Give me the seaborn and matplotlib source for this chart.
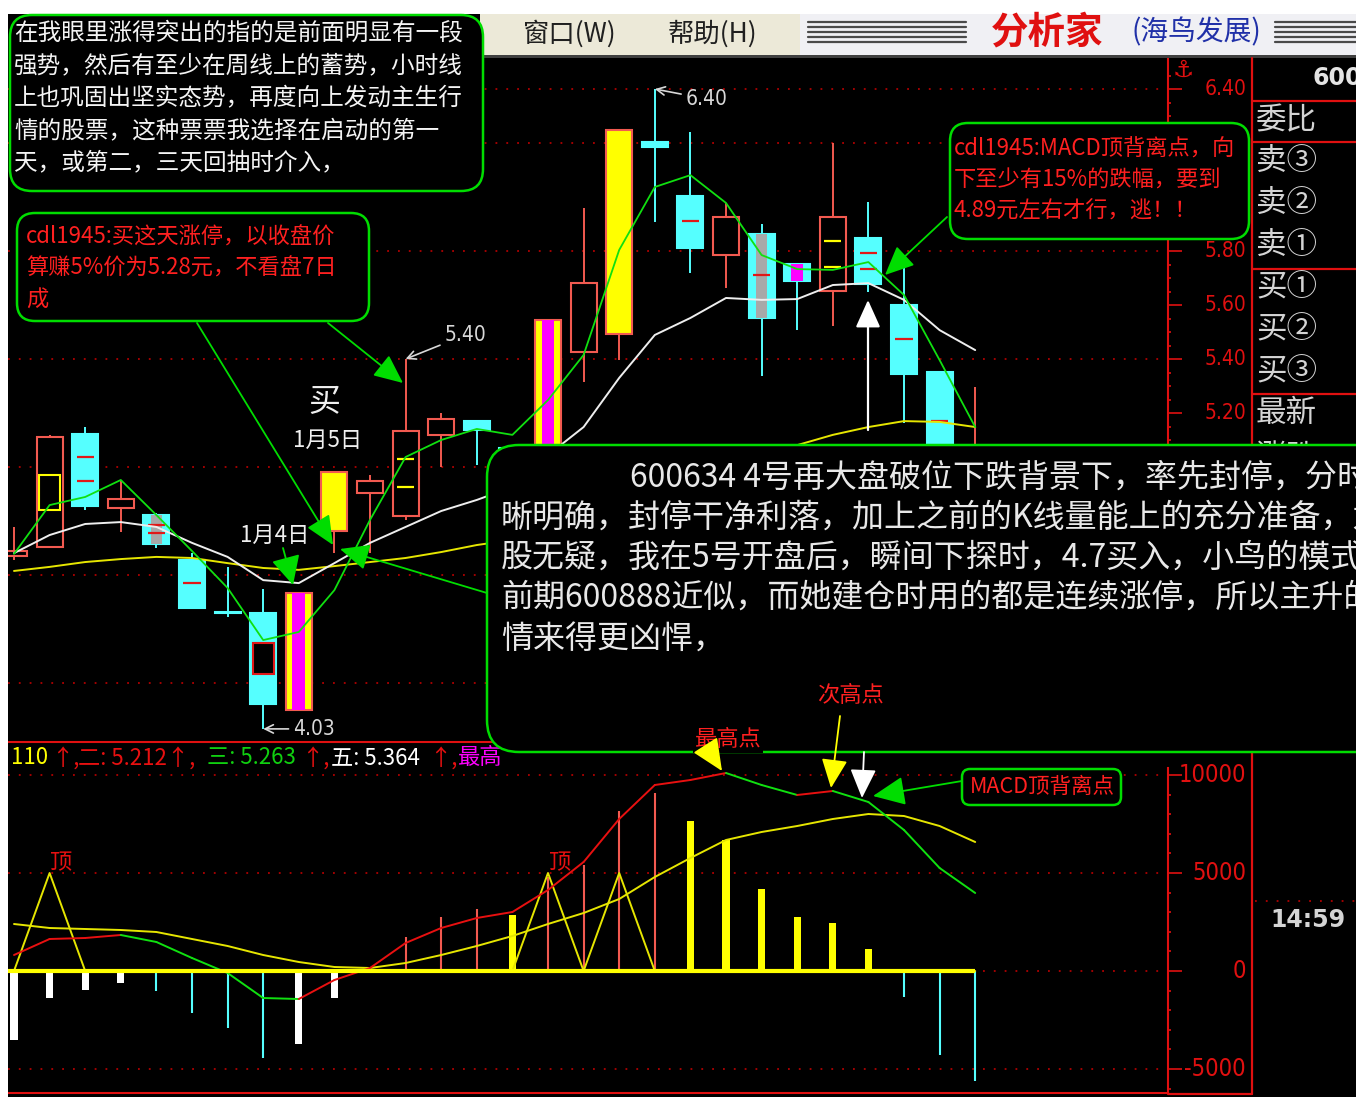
import numpy as np
import pandas as pd
import seaborn as sns
import matplotlib.pyplot as plt
from matplotlib.patches import FancyBboxPatch, Rectangle, FancyArrowPatch
from matplotlib.transforms import blended_transform_factory


# 600634 daily candles
opens = [4.670, 4.704, 5.122, 4.848, 4.822, 4.656, 4.462, 4.459, 4.100, 4.762,
         4.904, 4.819, 5.119, 5.170, 5.070, 5.040, 5.426, 5.493, 6.204, 6.004,
         5.785, 5.863, 5.752, 5.652, 5.848, 5.600, 5.352, 4.980]
highs = [4.778, 5.119, 5.148, 4.948, 4.830, 4.681, 4.630, 4.548, 4.533, 4.980,
         4.970, 5.400, 5.200, 5.170, 5.075, 5.544, 5.959, 6.248, 6.400, 6.241,
         5.978, 5.900, 5.752, 6.200, 5.981, 5.785, 5.352, 5.296]
lows = [4.656, 4.704, 4.841, 4.759, 4.700, 4.478, 4.444, 4.030, 4.100, 4.681,
        4.681, 4.804, 5.000, 5.007, 4.950, 5.040, 5.315, 5.396, 5.907, 5.719,
        5.663, 5.337, 5.507, 5.522, 5.648, 5.163, 4.950, 4.950]
closes = [4.689, 5.111, 4.856, 4.881, 4.715, 4.478, 4.459, 4.122, 4.533, 4.980,
          4.948, 5.133, 5.178, 5.137, 5.040, 5.544, 5.681, 6.248, 6.185, 5.811,
          5.926, 5.552, 5.689, 5.926, 5.678, 5.344, 5.040, 5.060]
# zt = limit-up board, ztk = limit-up after a gap open, g/m = marked doji days
day_tag = ['', '', '', '', 'g', '', '', '', 'zt', 'ztk',
           '', '', '', '', '', 'zt', '', 'ztk', '', '',
           '', 'g', 'm', '', '', '', '', '']
inner_lines = {2: [5.037, 4.948], 4: [4.785, 4.756], 5: [4.570], 11: [5.030, 4.926],
               19: [5.911], 21: [5.711], 23: [5.837, 5.741], 24: [5.793, 5.733],
               25: [5.474], 26: [5.170]}
inner_boxes = {1: (4.84, 4.97), 7: (4.233, 4.348)}

ma_green = [4.678, 4.859, 4.889, 4.952, 4.822, 4.689, 4.552, 4.359, 4.389, 4.544,
            4.804, 5.037, 5.100, 5.141, 5.119, 5.248, 5.415, 5.804, 6.037, 6.081,
            5.978, 5.785, 5.733, 5.730, 5.759, 5.637, 5.396, 5.148]
ma_white = [4.681, 4.748, 4.789, 4.796, 4.778, 4.719, 4.667, 4.581, 4.570, 4.644,
            4.719, 4.778, 4.837, 4.878, 4.926, 5.044, 5.148, 5.330, 5.489, 5.552,
            5.626, 5.619, 5.622, 5.674, 5.681, 5.619, 5.507, 5.433]
ma_yellow = [4.615, 4.630, 4.648, 4.659, 4.667, 4.663, 4.644, 4.626, 4.619, 4.633,
             4.648, 4.663, 4.685, 4.711, 4.730, 4.767, 4.822, 4.878, 4.922, 4.970,
             5.019, 5.056, 5.081, 5.119, 5.148, 5.170, 5.167, 5.148]

# MACD panel
dif = [816, 1633, 1684, 1837, 1480, 663, -102, -1378, -1429, -459,
       153, 1429, 2194, 2704, 3010, 4133, 5561, 7755, 9490, 9745,
       10102, 9490, 8980, 9184, 8622, 7194, 5255, 3980]
dea = [2398, 2194, 2143, 2092, 1990, 1633, 1276, 816, 459, 204,
       153, 408, 816, 1276, 1786, 2398, 2959, 3673, 4796, 5765,
       6684, 7092, 7398, 7755, 8010, 7908, 7398, 6582]
hist = [-3520, -1378, -969, -612, -1020, -2143, -2908, -4439, -3724, -1378,
        0, 1735, 2755, 3163, 2857, 4796, 5408, 8163, 9082, 7653,
        6684, 4184, 2755, 2449, 1122, -1327, -4286, -5612]
hist_strong = [1, 1, 1, 1, 0, 0, 0, 0, 1, 1, 0, 0, 0, 0, 1, 0, 0, 0, 0, 1,
               1, 1, 1, 1, 1, 0, 0, 0]
top_sig = [0, 5000, 0, 0, 0, 0, 0, 0, 0, 0, 0, 0, 0, 0, 0, 5000, 0, 5000, 0, 0,
           0, 0, 0, 0, 0, 0, 0, 0]
top_label_idx = [1, 15]

marked_high = [11, 18]
marked_low = [7]
price_ticks = [4.00, 4.20, 4.40, 4.60, 4.80, 5.00, 5.20, 5.40, 5.60, 5.80, 6.00, 6.20, 6.40]
price_labels = [5.20, 5.40, 5.60, 5.80, 6.40]   # the others sit under the note boxes
price_grid = [4.20, 4.60, 5.00, 5.40, 5.80, 6.20, 6.40]
macd_ticks = [10000, 5000, 0, -5000]

df = pd.DataFrame({'i': np.arange(len(closes)), 'open': opens, 'high': highs,
                   'low': lows, 'close': closes, 'ma5': ma_green, 'ma10': ma_white,
                   'ma20': ma_yellow, 'dif': dif, 'dea': dea, 'hist': hist,
                   'top': top_sig})

RED = '#F25A50'
AXRED = '#E01010'
GRID = '#B00000'
CYAN = '#55FFFF'
YEL = '#FFFF00'
MAG = '#FF00FF'
GRN = '#10E010'
BOXG = '#00DD00'
TXTRED = '#FF2020'

W_PX, H_PX = 1356, 1097
X0_PX, X_STEP = 14, 35.6
P_REF, P_REF_Y, PX_PER_YUAN = 5.20, 413, 270
M_ZERO_Y, PX_PER_5000 = 971, 98


def px_rect(x0, y0, x1, y1):
    return [x0 / W_PX, 1 - y1 / H_PX, (x1 - x0) / W_PX, (y1 - y0) / H_PX]


def idx_at(xp):
    return (xp - X0_PX) / X_STEP


def price_at(y):
    return P_REF + (P_REF_Y - y) / PX_PER_YUAN


def macd_at(y):
    return (M_ZERO_Y - y) * 5000 / PX_PER_5000


sns.set_style('dark', {'axes.facecolor': 'black', 'figure.facecolor': 'black'})
plt.rcParams['font.family'] = ['Noto Sans CJK SC', 'DejaVu Sans']
plt.rcParams['axes.unicode_minus'] = False

fig = plt.figure(figsize=(13.56, 10.97), dpi=100, facecolor='black')

# ---------------- price panel ----------------
ax = fig.add_axes(px_rect(8, 55, 1168, 742))
ax.set_facecolor('black')
ax.set_xlim(idx_at(8), idx_at(1168))
ax.set_ylim(price_at(742), price_at(55))
for s in ['left', 'top']:
    ax.spines[s].set_visible(False)
for s in ['right', 'bottom']:
    ax.spines[s].set_color(AXRED)
    ax.spines[s].set_linewidth(1.5)
ax.set_xticks([])
ax.yaxis.tick_right()
ax.set_yticks(price_ticks)
ax.set_yticks(np.arange(4.0, 6.5, 0.05), minor=True)
ax.tick_params(axis='y', which='major', right=True, left=False, length=10,
               width=1.2, color=AXRED, labelright=False, labelleft=False)
ax.tick_params(axis='y', which='minor', right=True, left=False, length=2.5,
               width=1.2, color=AXRED)
tr = blended_transform_factory(ax.transAxes, ax.transData)
for v in price_labels:
    ax.text(1 + 78 / 1160, v, f'{v:.2f}', transform=tr, ha='right', va='center',
            color=AXRED, fontsize=15, family='DejaVu Sans', fontstretch='condensed',
            clip_on=False)
for lv in price_grid:
    ax.axhline(lv, color=GRID, ls=(0, (1, 5)), lw=1.3, zorder=1)

BW = 0.73
for i, r in df.iterrows():
    o, h, l, c = r['open'], r['high'], r['low'], r['close']
    tag = day_tag[i]
    up = c >= o
    if tag in ('zt', 'ztk'):
        edge, face = RED, YEL
    elif up:
        edge, face = RED, 'black'
    else:
        edge, face = CYAN, CYAN
    lo, hi = min(o, c), max(o, c)
    ax.vlines(i, l, h, color=edge, lw=1.4, zorder=2)
    ax.bar(i, max(hi - lo, 0.004), bottom=lo, width=BW, color=face,
           edgecolor=edge, lw=1.5, zorder=3)
    if tag == 'zt':
        ax.bar(i, hi - lo, bottom=lo, width=BW * 0.5, color=MAG, lw=0, zorder=4)
    elif tag == 'g':
        ax.bar(i, hi - lo, bottom=lo, width=BW * 0.45, color='#A8A8A8', lw=0, zorder=4)
    elif tag == 'm':
        ax.bar(i, hi - lo, bottom=lo, width=BW * 0.45, color=MAG, lw=0, zorder=4)
    if i in inner_boxes:
        b0, b1 = inner_boxes[i]
        ax.bar(i, b1 - b0, bottom=b0, width=BW * 0.82, color='black',
               edgecolor=YEL if up else '#E01818', lw=1.5, zorder=4)
    for lv in inner_lines.get(i, []):
        ax.hlines(lv, i - BW * 0.33, i + BW * 0.33, color=YEL if up else '#E01818',
                  lw=1.6, zorder=4)

sns.lineplot(data=df, x='i', y='ma20', ax=ax, color='#E6E600', lw=1.4, zorder=5)
sns.lineplot(data=df, x='i', y='ma10', ax=ax, color='#EEEEEE', lw=1.4, zorder=5)
sns.lineplot(data=df, x='i', y='ma5', ax=ax, color=GRN, lw=1.3, zorder=6)
ax.set_xlabel('')
ax.set_ylabel('')

note_off = {11: (39, 24), 18: (31, -10)}
for i in marked_high:
    ax.annotate(f'{highs[i]:.2f}', xy=(i, highs[i]), xytext=note_off[i],
                textcoords='offset pixels', ha='left', va='center', color='#D8D8D8',
                fontsize=15, family='DejaVu Sans', fontstretch='condensed',
                arrowprops=dict(arrowstyle='->', color='#D8D8D8', lw=1.2,
                                shrinkA=1, shrinkB=0), zorder=7)
for i in marked_low:
    ax.annotate(f'{lows[i]:.2f}', xy=(i, lows[i]), xytext=(30, 0),
                textcoords='offset pixels', ha='left', va='center', color='#D8D8D8',
                fontsize=15, family='DejaVu Sans', fontstretch='condensed',
                arrowprops=dict(arrowstyle='->', color='#D8D8D8', lw=1.2,
                                shrinkA=1, shrinkB=0), annotation_clip=False, zorder=7)

# ---------------- MACD panel ----------------
ax2 = fig.add_axes(px_rect(8, 768, 1168, 1093))
ax2.set_facecolor('black')
ax2.set_xlim(idx_at(8), idx_at(1168))
ax2.set_ylim(macd_at(1093), macd_at(768))
for s in ['left', 'top']:
    ax2.spines[s].set_visible(False)
for s in ['right', 'bottom']:
    ax2.spines[s].set_color(AXRED)
    ax2.spines[s].set_linewidth(1.5)
ax2.set_xticks([])
ax2.yaxis.tick_right()
ax2.set_yticks(macd_ticks)
ax2.set_yticks(np.arange(-6000, 10001, 1000), minor=True)
ax2.tick_params(axis='y', which='major', right=True, left=False, length=10,
                width=1.2, color=AXRED, labelright=False, labelleft=False)
ax2.tick_params(axis='y', which='minor', right=True, left=False, length=2.5,
                width=1.2, color=AXRED)
tr2 = blended_transform_factory(ax2.transAxes, ax2.transData)
for v in macd_ticks:
    ax2.text(1 + 78 / 1160, v, f'{v}', transform=tr2, ha='right', va='center',
             color=AXRED, fontsize=17, family='DejaVu Sans', fontstretch='condensed',
             clip_on=False)
    ax2.axhline(v, color=GRID, ls=(0, (1, 5)), lw=1.3, zorder=1)

for i, r in df.iterrows():
    v = r['hist']
    if hist_strong[i]:
        ax2.bar(i, v, width=0.2, color=YEL if v > 0 else 'white', lw=0, zorder=2)
    elif v != 0:
        ax2.vlines(i, 0, v, color=RED if v > 0 else CYAN, lw=1.5, zorder=2)

sns.lineplot(data=df, x='i', y='top', ax=ax2, color='#E6E600', lw=1.4, zorder=3)
sns.lineplot(data=df, x='i', y='dea', ax=ax2, color='#E6E600', lw=1.4, zorder=3)
for i in range(1, len(dif)):
    ax2.plot([i - 1, i], [dif[i - 1], dif[i]], lw=1.4, zorder=4,
             color='#E81010' if dif[i] >= dif[i - 1] else GRN)
ax2.hlines(0, idx_at(8), df['i'].iloc[-1], color=YEL, lw=3, zorder=5)
for i in top_label_idx:
    ax2.annotate('顶', xy=(i, top_sig[i]), xytext=(12, 10), textcoords='offset pixels',
                 ha='center', va='center', color='#E81010', fontsize=16, zorder=6)
ax2.set_xlabel('')
ax2.set_ylabel('')

# ---------------- overlay: window chrome, panels, notes ----------------
ov = fig.add_axes([0, 0, 1, 1])
ov.set_xlim(0, W_PX)
ov.set_ylim(H_PX, 0)
ov.axis('off')
ov.set_zorder(10)


def rect(x0, y0, x1, y1, color, z=1):
    ov.add_patch(Rectangle((x0, y0), x1 - x0, y1 - y0, color=color, lw=0, zorder=z))


def rbox(x0, y0, x1, y1, r=18, z=20, ec=BOXG):
    ov.add_patch(FancyBboxPatch((x0 + r, y0 + r), x1 - x0 - 2 * r, y1 - y0 - 2 * r,
                                boxstyle=f'round,pad={r}', fc='black', ec=ec,
                                lw=1.8, zorder=z))


def say(x, y, s, color, size, ha='left', va='center', z=30, **kw):
    return ov.text(x, y, s, color=color, fontsize=size, ha=ha, va=va, zorder=z, **kw)


def arrow(x0, y0, x1, y1, color, lw=1.3, head=16, hw=0.4, z=40):
    ov.add_patch(FancyArrowPatch((x0, y0), (x1, y1),
                                 arrowstyle=f'-|>,head_length=1.0,head_width={hw}',
                                 mutation_scale=head, color=color, lw=lw, zorder=z,
                                 shrinkA=0, shrinkB=0))


# window chrome
rect(0, 0, W_PX, 14, 'white')
rect(0, 0, 8, H_PX, 'white')
rect(480, 14, 800, 55, '#ECE9D8')
rect(800, 14, W_PX, 55, '#F0F0F4')
rect(480, 55, W_PX, 58, '#404040')
for yl in [22, 27, 32, 37, 42]:
    ov.plot([808, 966], [yl, yl], color='#4A4A4A', lw=1.6, zorder=2)
    ov.plot([1275, W_PX], [yl, yl], color='#4A4A4A', lw=1.6, zorder=2)
say(523, 34, '窗口(W)', '#202020', 19)
say(668, 34, '帮助(H)', '#202020', 19)
say(1047, 32, '分析家', '#E01010', 27, ha='center', weight='bold', style='italic')
say(1196, 32, '(海鸟发展)', '#2030A8', 20, ha='center')

# right-side quote panel
ov.plot([1252, 1252], [58, 1094], color=AXRED, lw=1.6, zorder=3)
for yl in [101, 142, 269, 394]:
    ov.plot([1252, W_PX], [yl, yl], color=AXRED, lw=1.6, zorder=3)
ov.plot([1168, 1252], [1093.5, 1093.5], color=AXRED, lw=1.6, zorder=3)
ov.plot([1255, W_PX], [901, 901], color=GRID, ls=(0, (1, 5)), lw=1.3, zorder=3)
say(1313, 78, '600634', '#E4E4E4', 17, weight='bold', family='DejaVu Sans')
for yl, s in zip([121, 161, 203, 245, 288, 330, 372, 413],
                 ['委比', '卖③', '卖②', '卖①', '买①', '买②', '买③', '最新']):
    say(1256, yl, s, '#D4D4D4', 22, z=10)
# only the top of this row shows above the comment box
zd = say(1256, 458, '涨跌', '#D4D4D4', 22, z=10)
zd.set_clip_path(Rectangle((1253, 430), 103, 14, transform=ov.transData))
say(1308, 920, '14:59', '#D4D4D4', 17, ha='center', weight='bold', family='DejaVu Sans')
say(1183, 70, '⚓', AXRED, 17, ha='center', weight='bold', family='DejaVu Sans')

# MACD header row
hdr = [(11, '110', YEL), (51, '↑,', '#E81010'), (78, '二: 5.212↑,', '#E81010'),
       (207, '三: 5.263', '#10D010'), (301, '↑,', '#E81010'),
       (331, '五: 5.364', 'white'), (429, '↑,', '#E81010'), (458, '最高', MAG)]
for xh, s, col in hdr:
    say(xh, 758, s, col, 16, z=15)

# note box 1
rbox(10, 15, 483, 191, r=22)
for yl, s in zip([33, 66, 99, 131, 163],
                 ['在我眼里涨得突出的指的是前面明显有一段',
                  '强势，然后有至少在周线上的蓄势，小时线',
                  '上也巩固出坚实态势，再度向上发动主生行',
                  '情的股票，这种票票我选择在启动的第一',
                  '天，或第二，三天回抽时介入，']):
    say(14, yl, s, '#F4F4F4', 17)

# note box 2
rbox(17, 213, 369, 321, r=18)
for yl, s in zip([237, 268, 300],
                 ['cdl1945:买这天涨停，以收盘价', '算赚5%价为5.28元，不看盘7日', '成']):
    say(26, yl, s, TXTRED, 16)

# note box 3
rbox(950, 123, 1249, 239, r=18)
for yl, s in zip([149, 180, 211],
                 ['cdl1945:MACD顶背离点，向', '下至少有15%的跌幅，要到', '4.89元左右才行，逃！！']):
    say(954, yl, s, TXTRED, 16)

# labels on the price panel
say(324, 402, '买', '#F0F0F0', 23, ha='center')
say(328, 440, '1月5日', '#F0F0F0', 16, ha='center')
say(275, 535, '1月4日', '#F0F0F0', 16, ha='center')
arrow(197, 323, 333, 545, BOXG, head=18, hw=0.45)
arrow(328, 323, 403, 383, BOXG, head=18, hw=0.45)
arrow(283, 548, 293, 585, BOXG, head=18, hw=0.5)
arrow(487, 593, 340, 549, BOXG, head=18, hw=0.45)
arrow(947, 217, 885, 275, BOXG, head=18, hw=0.45)
arrow(868, 430, 868, 300, 'white', lw=1.6, head=17, hw=0.45)

# big comment box
rbox(487, 445, 1420, 752, r=32, z=20)
for xl, yl, s in [(630, 478, '600634 4号再大盘破位下跌背景下，率先封停，分时清'),
                  (501, 518, '晰明确，封停干净利落，加上之前的K线量能上的充分准备，龙头'),
                  (501, 558, '股无疑，我在5号开盘后，瞬间下探时，4.7买入，小鸟的模式与'),
                  (501, 598, '前期600888近似，而她建仓时用的都是连续涨停，所以主升的行'),
                  (501, 640, '情来得更凶悍，')]:
    say(xl, yl, s, '#E8E8E8', 23)

# MACD divergence notes
say(728, 740, '最高点', TXTRED, 16, ha='center', z=35,
    bbox=dict(fc='black', ec='none', pad=1))
say(850, 696, '次高点', TXTRED, 16, ha='center', z=35)
arrow(706, 746, 722, 771, YEL, head=20, hw=0.45)
arrow(840, 716, 831, 788, YEL, head=18, hw=0.45)
arrow(864, 752, 862, 798, 'white', head=18, hw=0.45)
arrow(962, 781, 873, 796, BOXG, head=20, hw=0.45)
rbox(962, 769, 1121, 805, r=8, z=20)
say(1042, 787, 'MACD顶背离点', TXTRED, 15.5, ha='center')

fig.savefig('out.png', dpi=100, facecolor='black')
